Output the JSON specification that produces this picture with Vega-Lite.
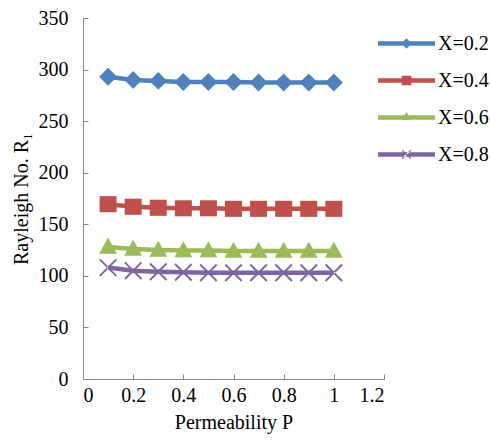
{
  "$schema": "https://vega.github.io/schema/vega-lite/v6.json",
  "width": 301,
  "height": 361,
  "autosize": "none",
  "padding": {"left": 83, "top": 18, "right": 106, "bottom": 66},
  "background": "white",
  "config": {
    "view": {"stroke": null},
    "font": "Liberation Serif",
    "axis": {
      "grid": false,
      "domainColor": "#868686",
      "tickColor": "#868686",
      "labelFont": "Liberation Serif",
      "labelFontSize": 20,
      "labelColor": "black",
      "titleFont": "Liberation Serif",
      "titleFontSize": 20,
      "titleFontWeight": "normal",
      "titleColor": "black"
    }
  },
  "data": {
    "values": [
      {"P": 0.1, "R": 293, "series": "X=0.2"},
      {"P": 0.2, "R": 290, "series": "X=0.2"},
      {"P": 0.3, "R": 289, "series": "X=0.2"},
      {"P": 0.4, "R": 288, "series": "X=0.2"},
      {"P": 0.5, "R": 288, "series": "X=0.2"},
      {"P": 0.6, "R": 288, "series": "X=0.2"},
      {"P": 0.7, "R": 287.5, "series": "X=0.2"},
      {"P": 0.8, "R": 287.5, "series": "X=0.2"},
      {"P": 0.9, "R": 287.5, "series": "X=0.2"},
      {"P": 1.0, "R": 287.5, "series": "X=0.2"},
      {"P": 0.1, "R": 169.5, "series": "X=0.4"},
      {"P": 0.2, "R": 167, "series": "X=0.4"},
      {"P": 0.3, "R": 166, "series": "X=0.4"},
      {"P": 0.4, "R": 165.5, "series": "X=0.4"},
      {"P": 0.5, "R": 165.5, "series": "X=0.4"},
      {"P": 0.6, "R": 165, "series": "X=0.4"},
      {"P": 0.7, "R": 165, "series": "X=0.4"},
      {"P": 0.8, "R": 165, "series": "X=0.4"},
      {"P": 0.9, "R": 165, "series": "X=0.4"},
      {"P": 1.0, "R": 165, "series": "X=0.4"},
      {"P": 0.1, "R": 128, "series": "X=0.6"},
      {"P": 0.2, "R": 126, "series": "X=0.6"},
      {"P": 0.3, "R": 125, "series": "X=0.6"},
      {"P": 0.4, "R": 124.5, "series": "X=0.6"},
      {"P": 0.5, "R": 124.5, "series": "X=0.6"},
      {"P": 0.6, "R": 124, "series": "X=0.6"},
      {"P": 0.7, "R": 124, "series": "X=0.6"},
      {"P": 0.8, "R": 124, "series": "X=0.6"},
      {"P": 0.9, "R": 124, "series": "X=0.6"},
      {"P": 1.0, "R": 124, "series": "X=0.6"},
      {"P": 0.1, "R": 108, "series": "X=0.8"},
      {"P": 0.2, "R": 105, "series": "X=0.8"},
      {"P": 0.3, "R": 104, "series": "X=0.8"},
      {"P": 0.4, "R": 103.5, "series": "X=0.8"},
      {"P": 0.5, "R": 103, "series": "X=0.8"},
      {"P": 0.6, "R": 103, "series": "X=0.8"},
      {"P": 0.7, "R": 103, "series": "X=0.8"},
      {"P": 0.8, "R": 103, "series": "X=0.8"},
      {"P": 0.9, "R": 103, "series": "X=0.8"},
      {"P": 1.0, "R": 103, "series": "X=0.8"}
    ]
  },
  "encoding": {
    "x": {
      "field": "P", "type": "quantitative",
      "scale": {"domain": [0, 1.2], "nice": false},
      "axis": {
        "title": "Permeability P",
        "values": [0, 0.2, 0.4, 0.6, 0.8, 1, 1.2],
        "labelExpr": "'' + datum.value",
        "tickSize": -5,
        "labelPadding": 11,
        "titlePadding": 7
      }
    },
    "y": {
      "field": "R", "type": "quantitative",
      "scale": {"domain": [0, 350], "nice": false},
      "axis": {
        "title": "Rayleigh No. R₁",
        "values": [0, 50, 100, 150, 200, 250, 300, 350],
        "tickSize": -5,
        "labelPadding": 20,
        "titlePadding": 7
      }
    }
  },
  "layer": [
    {
      "mark": {"type": "line", "strokeWidth": 4.5},
      "encoding": {
        "color": {
          "field": "series", "type": "nominal",
          "scale": {"domain": ["X=0.2", "X=0.4", "X=0.6", "X=0.8"], "range": ["#4F81BD", "#C0504D", "#9BBB59", "#8064A2"]},
          "legend": null
        }
      }
    },
    {
      "mark": {"type": "point", "filled": true, "opacity": 1, "size": 320},
      "encoding": {
        "color": {
          "field": "series", "type": "nominal",
          "scale": {"domain": ["X=0.2", "X=0.4", "X=0.6", "X=0.8"], "range": ["#4F81BD", "#C0504D", "#9BBB59", "#8064A2"]},
          "legend": null
        },
        "shape": {
          "field": "series", "type": "nominal",
          "scale": {"domain": ["X=0.2", "X=0.4", "X=0.6", "X=0.8"], "range": [
            "M0,-1L1,0L0,1L-1,0Z",
            "M-0.95,-0.9H0.95V0.9H-0.95Z",
            "M0,-1.05L1,0.75H-1Z",
            "M-1,-0.85L-0.85,-1L1,0.85L0.85,1Z M-1,0.85L-0.85,1L1,-0.85L0.85,-1Z"
          ]},
          "legend": null
        }
      }
    },
    {
      "mark": {"type": "point", "filled": true, "opacity": 0, "size": 10},
      "encoding": {
        "color": {
          "field": "series", "type": "nominal",
          "scale": {"domain": ["X=0.2", "X=0.4", "X=0.6", "X=0.8"], "range": ["#4F81BD", "#C0504D", "#9BBB59", "#8064A2"]},
          "legend": {
            "title": null,
            "orient": "none",
            "legendX": 294,
            "legendY": 8,
            "symbolSize": 3250,
            "symbolOpacity": 1,
            "labelFont": "Liberation Serif",
            "labelFontSize": 20,
            "labelColor": "black",
            "labelOffset": 2,
            "clipHeight": 35,
            "rowPadding": 2
          }
        },
        "shape": {
          "field": "series", "type": "nominal",
          "scale": {"domain": ["X=0.2", "X=0.4", "X=0.6", "X=0.8"], "range": [
            "M-1,-0.075H1V0.075H-1Z M0,-0.18L0.18,0L0,0.18L-0.18,0Z",
            "M-1,-0.075H1V0.075H-1Z M-0.17,-0.17H0.17V0.17H-0.17Z",
            "M-1,-0.075H1V0.075H-1Z M0,-0.19L0.17,0.09H-0.17Z",
            "M-1,-0.075H1V0.075H-1Z M-0.17,-0.14L-0.14,-0.17L0.17,0.14L0.14,0.17Z M-0.17,0.14L-0.14,0.17L0.17,-0.14L0.14,-0.17Z"
          ]},
          "legend": {
            "title": null,
            "orient": "none",
            "legendX": 294,
            "legendY": 8,
            "symbolSize": 3250,
            "symbolOpacity": 1,
            "labelFont": "Liberation Serif",
            "labelFontSize": 20,
            "labelColor": "black",
            "labelOffset": 2,
            "clipHeight": 35,
            "rowPadding": 2
          }
        }
      }
    }
  ],
  "resolve": {"scale": {"color": "independent", "shape": "independent"}}
}
